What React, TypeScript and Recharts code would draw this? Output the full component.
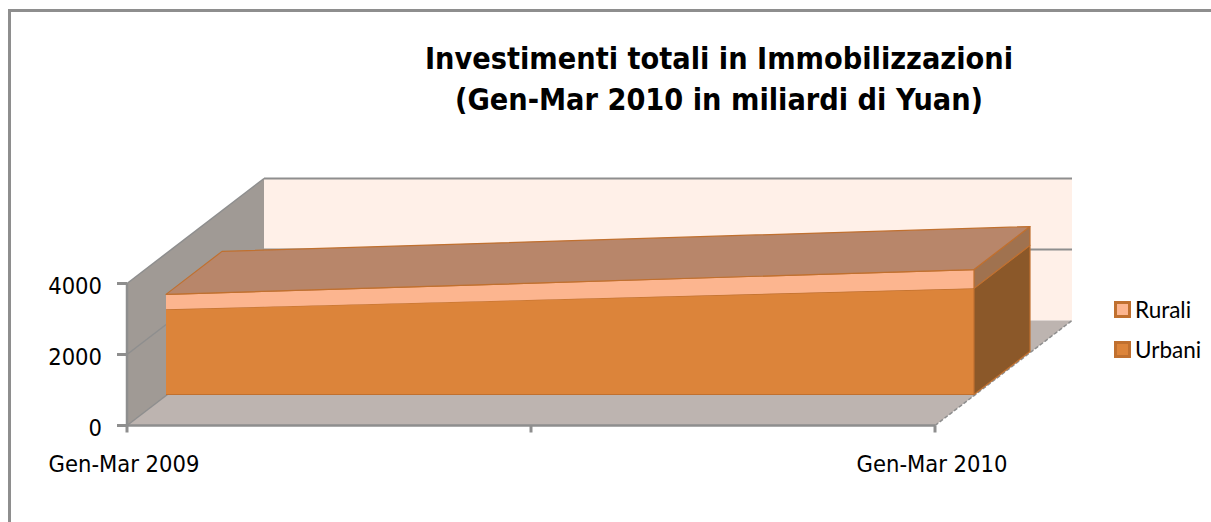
import React from 'react';
import { ComposedChart, Area, XAxis, YAxis } from 'recharts';

const periods = ['Gen-Mar 2009', 'Gen-Mar 2010'];
const positions = [0, 1];
const urbani = [2400, 2990];
const rurali = [420, 530];
const xTicks = [0, 0.5, 1];
const yTicks = [0, 2000, 4000];
const legendItems = [
  { name: 'Rurali', fill: '#fcb58f' },
  { name: 'Urbani', fill: '#dc843a' },
];

const data = positions.map((x, i) => ({ x, Urbani: urbani[i], Rurali: rurali[i] }));

const WIDTH = 1211;
const HEIGHT = 522;
const LEFT = 127;
const RIGHT = 935;
const TOP = 283.5;
const BOTTOM = 425.5;
const margin = { top: TOP, left: LEFT, right: WIDTH - RIGHT, bottom: HEIGHT - BOTTOM };
const Y_AXIS_W = 100;
const X_AXIS_H = 70;
const axisMargin = { ...margin, left: LEFT - Y_AXIS_W, bottom: HEIGHT - BOTTOM - X_AXIS_H };

// how far the walls and the area block are pushed back in the fake 3D
const WALL_DX = 137;
const WALL_DY = -105;
const BLOCK_X = 39;
const BLOCK_Y = -31;
const BLOCK_DX = 56;
const BLOCK_DY = -43;

const FONT = '"DejaVu Sans Condensed", "DejaVu Sans", sans-serif';
const AXIS_GRAY = '#8e8e8e';
const EDGE = '#c0702f';

const poly = (pts: number[][]) => pts.map((p) => p.join(',')).join(' ');

const Walls = () => {
  const lineY = (v: number) => BOTTOM - (v / 4000) * (BOTTOM - TOP);
  return (
    <svg width={WIDTH} height={HEIGHT} style={{ position: 'absolute', left: 0, top: 0 }}>
      <polygon
        points={poly([[LEFT + WALL_DX, TOP + WALL_DY], [RIGHT + WALL_DX, TOP + WALL_DY], [RIGHT + WALL_DX, BOTTOM + WALL_DY], [LEFT + WALL_DX, BOTTOM + WALL_DY]])}
        fill="#fff0e8"
      />
      <polygon
        points={poly([[LEFT, BOTTOM], [LEFT + WALL_DX, BOTTOM + WALL_DY], [RIGHT + WALL_DX, BOTTOM + WALL_DY], [RIGHT, BOTTOM]])}
        fill="#bdb4b0"
      />
      <polygon
        points={poly([[LEFT, TOP], [LEFT + WALL_DX, TOP + WALL_DY], [LEFT + WALL_DX, BOTTOM + WALL_DY], [LEFT, BOTTOM]])}
        fill="#a09a95"
      />
      {yTicks.map((v) => (
        <g key={v} stroke={AXIS_GRAY}>
          <line x1={LEFT} y1={lineY(v)} x2={LEFT + WALL_DX} y2={lineY(v) + WALL_DY} strokeWidth={1.5} />
          <line x1={LEFT + WALL_DX} y1={lineY(v) + WALL_DY} x2={RIGHT + WALL_DX} y2={lineY(v) + WALL_DY} strokeWidth={v === 0 ? 0 : 2} />
        </g>
      ))}
      <line x1={RIGHT} y1={BOTTOM} x2={RIGHT + WALL_DX} y2={BOTTOM + WALL_DY} stroke={AXIS_GRAY} strokeWidth={1.5} strokeDasharray="4 2" />
    </svg>
  );
};

// Area has no 3D mode, so the dot callback draws the extruded faces from the points the library computed
const makeFaces = (sideFill: string, withTop: boolean) => (props: any) => {
  const { index, points } = props;
  if (index !== 0 || !points) return <g key={`face-${index}`} />;
  const [a, b] = points;
  const hi = b.value[1];
  const lo = b.value[0];
  const yLo = BOTTOM - (lo * (BOTTOM - b.y)) / hi;
  return (
    <g key="faces" stroke={EDGE} strokeWidth={1.2} strokeLinejoin="round">
      <polygon
        points={poly([[b.x, b.y], [b.x + BLOCK_DX, b.y + BLOCK_DY], [b.x + BLOCK_DX, yLo + BLOCK_DY], [b.x, yLo]])}
        fill={sideFill}
      />
      {withTop && (
        <polygon
          points={poly([[a.x, a.y], [b.x, b.y], [b.x + BLOCK_DX, b.y + BLOCK_DY], [a.x + BLOCK_DX, a.y + BLOCK_DY]])}
          fill="#b8866a"
        />
      )}
      {!withTop && <line x1={a.x} y1={BOTTOM} x2={b.x} y2={BOTTOM} />}
    </g>
  );
};

const Legend3D = () => (
  <div style={{ position: 'absolute', left: 1114, top: 299, fontFamily: 'Lato, sans-serif', fontSize: 22.5, color: '#000' }}>
    {legendItems.map((item) => (
      <div key={item.name} style={{ display: 'flex', alignItems: 'center', height: 20, marginBottom: 20 }}>
        <span style={{ width: 11, height: 11, background: item.fill, border: `3px solid ${EDGE}`, marginRight: 4 }} />
        {item.name}
      </div>
    ))}
  </div>
);

export default function App() {
  return (
    <div style={{ position: 'absolute', left: 0, top: 0, width: WIDTH, height: HEIGHT, background: '#fff', overflow: 'hidden' }}>
      <div style={{ position: 'absolute', left: 8, top: 9, width: WIDTH, height: HEIGHT, borderLeft: '3px solid #8e8e8e', borderTop: '3px solid #8e8e8e' }} />
      <div
        style={{
          position: 'absolute',
          left: 319,
          width: 800,
          top: 38,
          textAlign: 'center',
          fontFamily: FONT,
          fontWeight: 700,
          fontSize: 30.3,
          lineHeight: '41px',
          color: '#000',
        }}
      >
        Investimenti totali in Immobilizzazioni
        <br />
        (Gen-Mar 2010 in miliardi di Yuan)
      </div>
      <Walls />
      <div style={{ position: 'absolute', left: 0, top: 0 }}>
        <ComposedChart width={WIDTH} height={HEIGHT} data={data} margin={axisMargin}>
          <XAxis
            dataKey="x"
            type="number"
            domain={[0, 1]}
            ticks={xTicks}
            height={X_AXIS_H}
            tickFormatter={(v: number) => (v === 0 ? periods[0] : v === 1 ? periods[1] : '')}
            tick={{ fill: '#000', fontSize: 23.5, fontFamily: FONT, dx: -3 }}
            tickLine={{ stroke: AXIS_GRAY, strokeWidth: 3 }}
            axisLine={{ stroke: AXIS_GRAY, strokeWidth: 2.5 }}
            tickSize={7}
            tickMargin={23}
            interval={0}
          />
          <YAxis
            type="number"
            domain={[0, 4000]}
            ticks={yTicks}
            width={Y_AXIS_W}
            tick={{ fill: '#000', fontSize: 23.5, fontFamily: FONT, dy: 2 }}
            tickLine={{ stroke: AXIS_GRAY, strokeWidth: 3 }}
            axisLine={{ stroke: AXIS_GRAY, strokeWidth: 2.5 }}
            tickSize={10}
            tickMargin={15}
            interval={0}
          />
          <Area dataKey="Urbani" fill="none" stroke="none" dot={false} activeDot={false} isAnimationActive={false} />
        </ComposedChart>
      </div>
      <div style={{ position: 'absolute', left: BLOCK_X, top: BLOCK_Y }}>
        <ComposedChart width={WIDTH} height={HEIGHT} data={data} margin={margin}>
          <XAxis dataKey="x" type="number" domain={[0, 1]} hide />
          <YAxis type="number" domain={[0, 4000]} hide />
          <Area
            dataKey="Urbani"
            stackId="a"
            type="linear"
            fill="#dc843a"
            fillOpacity={1}
            stroke={EDGE}
            strokeWidth={1.2}
            dot={makeFaces('#8b5829', false)}
            activeDot={false}
            isAnimationActive={false}
          />
          <Area
            dataKey="Rurali"
            stackId="a"
            type="linear"
            fill="#fcb58f"
            fillOpacity={1}
            stroke={EDGE}
            strokeWidth={1.2}
            dot={makeFaces('#a0724f', true)}
            activeDot={false}
            isAnimationActive={false}
          />
        </ComposedChart>
      </div>
      <Legend3D />
    </div>
  );
}
